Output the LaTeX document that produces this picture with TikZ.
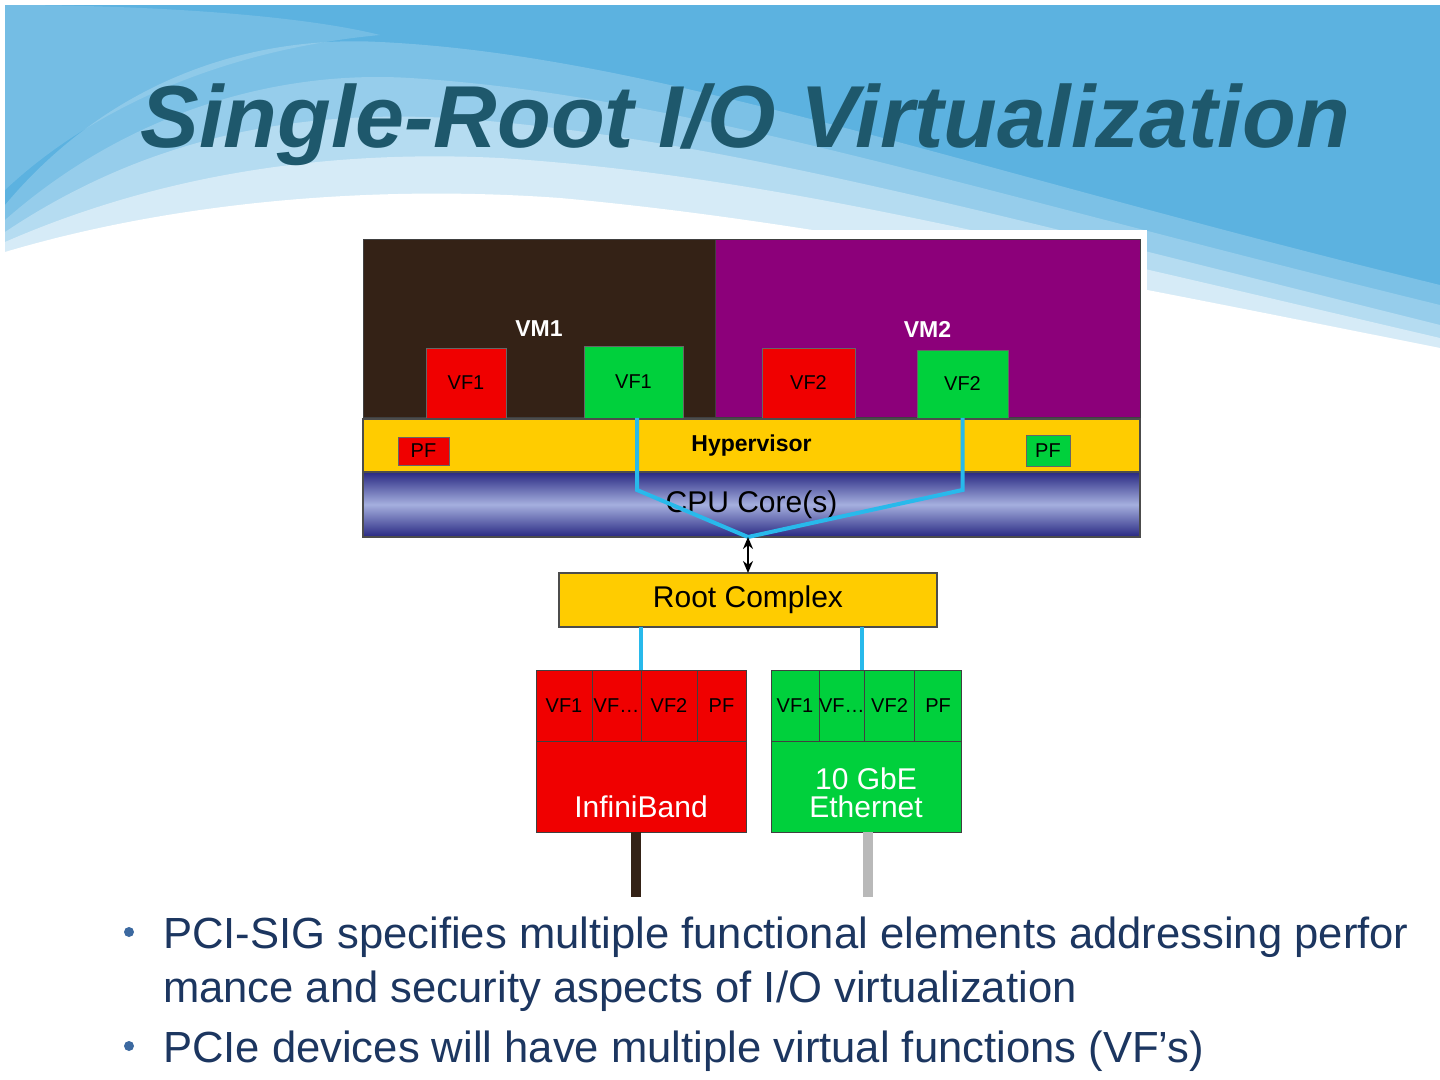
\documentclass[tikz,border=0pt]{standalone}
\usepackage{fontspec}
\setmainfont{Liberation Sans}
\usetikzlibrary{arrows.meta, positioning, calc}

\definecolor{skyblue}{RGB}{92,178,224}
\definecolor{titleteal}{RGB}{30,88,108}
\definecolor{bodynavy}{RGB}{28,54,96}
\definecolor{dotblue}{RGB}{60,105,160}
\definecolor{vmbrown}{RGB}{52,34,22}
\definecolor{vmpurple}{RGB}{140,0,122}
\definecolor{hvyellow}{RGB}{255,204,0}
\definecolor{vfred}{RGB}{240,0,0}
\definecolor{vfgreen}{RGB}{0,208,60}
\definecolor{cpudark}{RGB}{40,40,130}
\definecolor{cpulight}{RGB}{165,175,222}
\definecolor{linkcyan}{RGB}{40,185,235}
\definecolor{ibcable}{RGB}{52,34,22}
\definecolor{ethcable}{RGB}{185,185,185}

\begin{document}
\begin{tikzpicture}[
    x=0.5pt, y=-0.5pt,
    every node/.style = {inner sep=0pt, outer sep=0pt},
    vmbox/.style    = {rectangle, draw=black!75, line width=0.5pt, text=white,
                       font=\fontsize{11.5}{13}\selectfont\bfseries},
    vfbox/.style    = {rectangle, draw=black!60, line width=0.4pt,
                       font=\fontsize{10}{12}\selectfont},
    bar/.style      = {rectangle, draw=black!70, line width=0.6pt,
                       minimum width=388.5pt},
    cell/.style     = {rectangle, draw=black!75, line width=0.5pt,
                       minimum height=35.5pt, font=\fontsize{10}{12}\selectfont},
    cardbody/.style = {rectangle, draw=black!75, line width=0.5pt,
                       minimum height=45.5pt, anchor=north west},
    cardtext/.style = {text=white, align=center, anchor=south,
                       font=\fontsize{15}{14}\selectfont},
    pcie/.style     = {draw=linkcyan, line width=2pt},
    cable/.style    = {line width=5pt},
    bullet/.style   = {anchor=base west, text=bodynavy,
                       font=\fontsize{21.8}{27}\selectfont},
    dot/.style      = {circle, fill=dotblue, minimum size=5pt},
    haze/.style     = {white, opacity=#1},
    haze/.default   = 0.2
]

% ========= slide background =========
\useasboundingbox (0,0) rectangle (1440,1080);
\fill[white] (0,0) rectangle (1440,1080);
\fill[skyblue] (5,5) rectangle (1440,360);
\fill[haze=0.15] (5,5) .. controls (150,5) and (300,15) .. (380,35)
    .. controls (220,50) and (90,110) .. (5,190) -- cycle;
\fill[haze=0.2] (5,205) .. controls (110,80) and (250,35) .. (380,42)
    .. controls (650,55) and (950,165) .. (1440,285) -- (1440,360) -- (5,360) -- cycle;
\fill[haze=0.2] (5,220) .. controls (130,110) and (280,70) .. (410,78)
    .. controls (680,95) and (950,185) .. (1440,305) -- (1440,360) -- (5,360) -- cycle;
\fill[haze=0.3] (5,232) .. controls (150,135) and (300,110) .. (450,118)
    .. controls (700,135) and (960,205) .. (1440,325) -- (1440,360) -- (5,360) -- cycle;
\fill[haze=0.45] (5,242) .. controls (170,170) and (340,150) .. (500,158)
    .. controls (760,175) and (1000,235) .. (1440,338) -- (1440,360) -- (5,360) -- cycle;
\fill[white] (5,252) .. controls (180,200) and (380,185) .. (560,198)
    .. controls (800,220) and (1050,270) .. (1440,348) -- (1440,360) -- (5,360) -- cycle;
\fill[white] (357,230) rectangle (1147,540);

% ========= title =========
\node[font=\fontsize{44}{50}\selectfont\bfseries\itshape, text=titleteal, anchor=base]
    (title) at (745,148) {Single-Root I/O Virtualization};

% ========= virtual machines =========
\node[vmbox, fill=vmbrown,  minimum width=176pt,   minimum height=89pt] (vmone) at (539,329)   {VM1};
\node[vmbox, fill=vmpurple, minimum width=212.5pt, minimum height=89pt] (vmtwo) at (927.5,329) {VM2};

\node[vfbox, fill=vfred,   minimum width=40pt,   minimum height=35pt] (vfredone)   at (466,383)   {VF1};
\node[vfbox, fill=vfgreen, minimum width=49.5pt, minimum height=36pt] (vfgreenone) at (633.5,382) {VF1};
\node[vfbox, fill=vfred,   minimum width=46.5pt, minimum height=35pt] (vfredtwo)   at (808.5,383) {VF2};
\node[vfbox, fill=vfgreen, minimum width=45.5pt, minimum height=34pt] (vfgreentwo) at (962.5,384) {VF2};

% ========= hypervisor and cpu =========
\node[bar, fill=hvyellow, minimum height=27pt,
      font=\fontsize{11.5}{13}\selectfont\bfseries] (hyp) at (751.5,446) {Hypervisor};
\node[vfbox, fill=vfred,   minimum width=25.5pt, minimum height=14pt]   (pfred)   at (423.5,451) {PF};
\node[vfbox, fill=vfgreen, minimum width=22pt,   minimum height=15.5pt] (pfgreen) at (1048,450.5) {PF};
\node[bar, top color=cpudark, bottom color=cpudark, middle color=cpulight,
      minimum height=32.5pt, font=\fontsize{15}{17}\selectfont] (cpu) at (751.5,504.5) {CPU Core(s)};

% ========= root complex =========
\node[bar, fill=hvyellow, minimum width=189pt, minimum height=27pt,
      font=\fontsize{15}{17}\selectfont] (root) at (748,600) {Root Complex};
\coordinate (hub) at (cpu.south -| root.north);

\draw[pcie] ([xshift=1.75pt]vfgreenone.south) -- ++(0,72) -- (hub);
\draw[pcie] (vfgreentwo.south) -- ++(0,72) -- (hub);
\draw[{Stealth[length=6pt,width=5pt]}-{Stealth[length=6pt,width=5pt]}, line width=1.2pt]
    (hub) -- (root.north);

% ========= InfiniBand card =========
\node[cell, fill=vfred, minimum width=28pt]                     (ibvfa) at (564,705.5) {VF1};
\node[cell, fill=vfred, minimum width=24.5pt, right=0pt of ibvfa] (ibvfb) {VF…};
\node[cell, fill=vfred, minimum width=28pt,   right=0pt of ibvfb] (ibvfc) {VF2};
\node[cell, fill=vfred, minimum width=24.5pt, right=0pt of ibvfc] (ibpf)  {PF};
\node[cardbody, fill=vfred, minimum width=105pt] (ibbody) at (ibvfa.south west) {};
\node[cardtext] (iblabel) at ([yshift=7pt]ibbody.south) {InfiniBand};

% ========= Ethernet card =========
\node[cell, fill=vfgreen, minimum width=24pt]                       (ethvfa) at (795,705.5) {VF1};
\node[cell, fill=vfgreen, minimum width=22.5pt, right=0pt of ethvfa] (ethvfb) {VF…};
\node[cell, fill=vfgreen, minimum width=25pt,   right=0pt of ethvfb] (ethvfc) {VF2};
\node[cell, fill=vfgreen, minimum width=23.5pt, right=0pt of ethvfc] (ethpf)  {PF};
\node[cardbody, fill=vfgreen, minimum width=95pt] (ethbody) at (ethvfa.south west) {};
\node[cardtext] (ethlabel) at ([yshift=7pt]ethbody.south) {10 GbE\\Ethernet};

\draw[pcie] (root.south -| ibvfb.north east) -- (ibvfb.north east);
\draw[pcie] ([xshift=-1.5pt]root.south -| ethvfb.north east) -- ([xshift=-1.5pt]ethvfb.north east);

% cables leaving the cards
\coordinate (ibend)  at ([xshift=-2.5pt,yshift=-32.5pt]ibbody.south);
\coordinate (ethend) at ([xshift=1pt,yshift=-32.5pt]ethbody.south);
\draw[cable, draw=ibcable]  ([xshift=-2.5pt]ibbody.south) -- (ibend);
\draw[cable, draw=ethcable] ([xshift=1pt]ethbody.south)   -- (ethend);

% ========= bullets =========
\node[dot] (dotone) at (129,932) {};
\node[bullet] (lineone) at (163,948)
    {PCI-SIG specifies multiple functional elements addressing perfor};
\node[bullet] (linetwo) at (163,1002)
    {mance and security aspects of I/O virtualization};
\node[dot] (dottwo) at (129,1046) {};
\node[bullet] (linethree) at (163,1062)
    {PCIe devices will have multiple virtual functions (VF’s)};

\end{tikzpicture}
\end{document}
